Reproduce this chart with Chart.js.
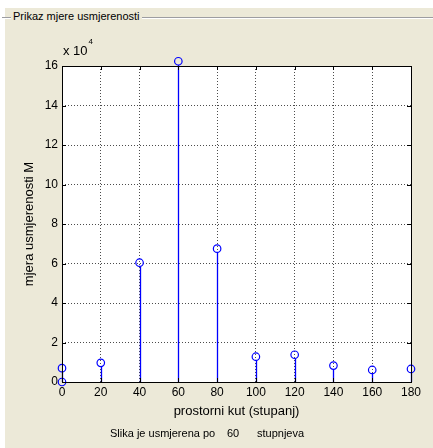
<!DOCTYPE html>
<html>
<head>
<meta charset="utf-8">
<script src="https://cdn.jsdelivr.net/npm/chart.js@4"></script>
<style>
  body { margin: 0; background: #fff; font-family: "Liberation Sans", Arial, sans-serif; }
  #wrap { position: relative; width: 433px; height: 448px; overflow: hidden; }
  #panel { position: absolute; left: 5px; top: 8px; right: 0; bottom: 0; background: #ECE9D8; }
  #etch { position: absolute; left: 2px; right: 0; top: 17px; height: 1px; background: #9d9da1; border-bottom: 1px solid #fff; }
  #ptitle { position: absolute; left: 11px; top: 9px; font-size: 11px; line-height: 14px; background: #ECE9D8; padding: 0 2px; color: #000; }
  .note { position: absolute; top: 426px; font-size: 11px; line-height: 14px; color: #000; }
  canvas { position: absolute; left: 0; top: 0; }
</style>
</head>
<body>
<div id="wrap">
  <div id="panel"></div>
  <div id="etch"></div>
  <div id="ptitle">Prikaz mjere usmjerenosti</div>
  <canvas id="stemChart" width="433" height="448"></canvas>
  <div class="note" style="left:110px">Slika je usmjerena po</div>
  <div class="note" style="left:227px">60</div>
  <div class="note" style="left:257px">stupnjeva</div>
</div>
<script>
// prostorni kut (stupanj) and mjera usmjerenosti (x 10^4)
const angles = [0, 0, 20, 40, 60, 80, 100, 120, 140, 160, 180];
const measure = [0, 0.7, 0.97, 6.04, 16.24, 6.75, 1.28, 1.38, 0.83, 0.61, 0.66];
const xTicks = [0, 20, 40, 60, 80, 100, 120, 140, 160, 180];
const yTicks = [0, 2, 4, 6, 8, 10, 12, 14, 16];

const FONT = "'Liberation Sans', Arial, sans-serif";

// white axes background, stems, box, inner ticks and the exponent label
const stemPlugin = {
  id: 'stems',
  beforeDraw(chart) {
    const a = chart.chartArea;
    const ctx = chart.ctx;
    ctx.save();
    ctx.fillStyle = '#fff';
    ctx.fillRect(a.left, a.top, a.right - a.left, a.bottom - a.top);
    ctx.restore();
  },
  beforeDatasetsDraw(chart) {
    const ctx = chart.ctx;
    const xs = chart.scales.x, ys = chart.scales.y;
    const meta = chart.getDatasetMeta(0);
    ctx.save();
    ctx.strokeStyle = '#0000ff';
    ctx.lineWidth = 1.3;
    angles.forEach((ang, i) => {
      const px = Math.round(xs.getPixelForValue(ang)) + 0.5;
      const y0 = ys.getPixelForValue(0);
      const y1 = meta.data[i].y + 3.75;
      if (y1 >= y0) return;
      ctx.beginPath();
      ctx.moveTo(px, y0);
      ctx.lineTo(px, y1);
      ctx.stroke();
    });
    ctx.restore();
  },
  afterDraw(chart) {
    const ctx = chart.ctx;
    const a = chart.chartArea;
    const xs = chart.scales.x, ys = chart.scales.y;
    ctx.save();
    ctx.strokeStyle = '#000';
    ctx.lineWidth = 1;
    ctx.beginPath();
    xTicks.forEach(v => {
      const px = Math.round(xs.getPixelForValue(v)) + 0.5;
      ctx.moveTo(px, a.bottom); ctx.lineTo(px, a.bottom - 4);
      ctx.moveTo(px, a.top); ctx.lineTo(px, a.top + 4);
    });
    yTicks.forEach(v => {
      const py = Math.round(ys.getPixelForValue(v)) + 0.5;
      ctx.moveTo(a.left, py); ctx.lineTo(a.left + 4, py);
      ctx.moveTo(a.right, py); ctx.lineTo(a.right - 4, py);
    });
    ctx.stroke();
    ctx.strokeRect(Math.round(a.left) + 0.5, Math.round(a.top) + 0.5,
      Math.round(a.right - a.left), Math.round(a.bottom - a.top));
    // exponent
    ctx.fillStyle = '#000';
    ctx.textBaseline = 'alphabetic';
    ctx.font = '13px ' + FONT;
    ctx.fillText('x 10', a.left + 1, a.top - 11);
    const w = ctx.measureText('x 10').width;
    ctx.font = '8px ' + FONT;
    ctx.fillText('4', a.left + 2 + w, a.top - 22);
    ctx.restore();
  }
};

new Chart(document.getElementById('stemChart'), {
  type: 'scatter',
  data: {
    datasets: [{
      data: angles.map((a, i) => ({ x: a, y: measure[i] })),
      pointRadius: 3.75,
      pointBorderWidth: 1.2,
      pointBorderColor: '#0000ff',
      pointBackgroundColor: 'rgba(0,0,0,0)',
      pointHoverRadius: 3.75,
      showLine: false,
      clip: false
    }]
  },
  options: {
    responsive: false,
    animation: false,
    events: [],
    layout: { padding: { top: 66, right: 22, left: 22, bottom: 29 } },
    plugins: { legend: { display: false }, tooltip: { enabled: false } },
    scales: {
      x: {
        type: 'linear',
        min: 0, max: 180,
        afterFit(s) { s.height = 37; },
        afterBuildTicks(s) { s.ticks = xTicks.map(v => ({ value: v })); },
        ticks: { font: { size: 12, family: FONT }, color: '#000', padding: 3, maxRotation: 0 },
        grid: { color: 'rgba(0,0,0,0.7)', drawTicks: false, lineWidth: 1 },
        border: { display: false, dash: [1, 2] },
        title: { display: true, text: 'prostorni kut (stupanj)', color: '#000',
          font: { size: 13, family: FONT }, padding: { top: 2, bottom: 0 } }
      },
      y: {
        type: 'linear',
        min: 0, max: 16,
        afterFit(s) { s.width = 40; },
        afterBuildTicks(s) { s.ticks = yTicks.map(v => ({ value: v })); },
        ticks: { font: { size: 12, family: FONT }, color: '#000', padding: 4 },
        grid: { color: 'rgba(0,0,0,0.7)', drawTicks: false, lineWidth: 1 },
        border: { display: false, dash: [1, 2] },
        title: { display: true, text: 'mjera usmjerenosti M', color: '#000',
          font: { size: 13, family: FONT }, padding: { top: 0, bottom: 0 } }
      }
    }
  },
  plugins: [stemPlugin]
});
</script>
</body>
</html>
